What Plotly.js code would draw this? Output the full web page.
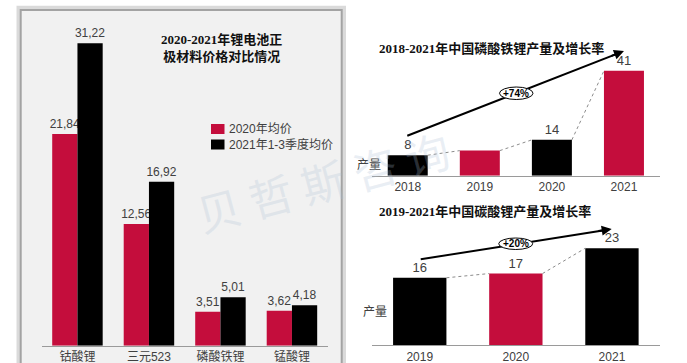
<!DOCTYPE html>
<html>
<head>
<meta charset="utf-8">
<script src="https://cdn.plot.ly/plotly-3.0.1.min.js"></script>
<style>html,body{margin:0;padding:0;background:#fff;}#chart{width:687px;height:363px;}</style>
</head>
<body>
<div id="chart"></div>
<script>
// ---------- data ----------
const priceCategories = ['钴酸锂', '三元523', '磷酸铁锂', '锰酸锂'];
const priceSeriesNames = ['2020年均价', '2021年1-3季度均价'];
const price2020 = [21.84, 12.56, 3.51, 3.62];
const price2021 = [31.22, 16.92, 5.01, 4.18];
const priceTitle = '2020-2021年锂电池正<br>极材料价格对比情况';

const lfpYears = ['2018', '2019', '2020', '2021'];
const lfpOutput = [8, 9.8, 14, 41];
const lfpLabels = ['8', '', '14', '41'];
const lfpTitle = '2018-2021年中国磷酸铁锂产量及增长率';
const lfpGrowth = '+74%';

const li2co3Years = ['2019', '2020', '2021'];
const li2co3Output = [16, 17, 23];
const li2co3Labels = ['16', '17', '23'];
const li2co3Title = '2019-2021年中国碳酸锂产量及增长率';
const li2co3Growth = '+20%';

const yLabel = '产量';
const watermark = '贝 哲 斯 咨 询';

// ---------- styles ----------
const RED = '#C40D3C';
const BLACK = '#000000';
const W = 687, H = 363;
const px = v => v / W;
const py = v => 1 - v / H;
const SANS = 'Liberation Sans, Noto Sans CJK SC, sans-serif';
const SERIF = 'Liberation Serif, Noto Sans CJK SC, serif';
const TXT = '#404040';
const fmt = v => v.toFixed(2).replace('.', ',');

const lfpColors = lfpYears.map((_, i) => i % 2 === 0 ? BLACK : RED);
const li2co3Colors = li2co3Years.map((_, i) => i % 2 === 0 ? BLACK : RED);
const rightBarWidth = 0.555;

const traces = [
  {type: 'bar', x: priceCategories, y: price2020, name: priceSeriesNames[0],
   marker: {color: RED}, text: price2020.map(fmt), textposition: 'outside',
   constraintext: 'none', cliponaxis: false, textfont: {size: 12, color: TXT, family: SANS},
   xaxis: 'x', yaxis: 'y', showlegend: false},
  {type: 'bar', x: priceCategories, y: price2021, name: priceSeriesNames[1],
   marker: {color: BLACK}, text: price2021.map(fmt), textposition: 'outside',
   constraintext: 'none', cliponaxis: false, textfont: {size: 12, color: TXT, family: SANS},
   xaxis: 'x', yaxis: 'y', showlegend: false},
  {type: 'bar', x: lfpYears, y: lfpOutput, width: rightBarWidth,
   marker: {color: lfpColors}, text: lfpLabels, textposition: 'outside',
   constraintext: 'none', cliponaxis: false, textfont: {size: 13, color: TXT, family: SANS},
   xaxis: 'x2', yaxis: 'y2', showlegend: false},
  {type: 'bar', x: li2co3Years, y: li2co3Output, width: rightBarWidth,
   marker: {color: li2co3Colors}, text: li2co3Labels, textposition: 'outside',
   constraintext: 'none', cliponaxis: false, textfont: {size: 13, color: TXT, family: SANS},
   xaxis: 'x3', yaxis: 'y3', showlegend: false}
];

const shapes = [
  // left panel shadow + box
  {type: 'rect', xref: 'paper', yref: 'paper', x0: px(18.5), x1: px(344), y0: -0.05, y1: py(7.8),
   line: {color: 'rgba(150,150,150,0.35)', width: 4}, fillcolor: 'rgba(0,0,0,0)', layer: 'below'},
  {type: 'rect', xref: 'paper', yref: 'paper', x0: px(20.7), x1: px(341.7), y0: -0.05, y1: py(10),
   line: {color: '#a3a3a3', width: 2}, fillcolor: '#f1f1f1', layer: 'below'},
  // legend swatches
  {type: 'rect', xref: 'paper', yref: 'paper', x0: px(211), x1: px(224.5), y0: py(134), y1: py(124),
   line: {width: 0}, fillcolor: RED},
  {type: 'rect', xref: 'paper', yref: 'paper', x0: px(211), x1: px(224.5), y0: py(149.5), y1: py(139.5),
   line: {width: 0}, fillcolor: BLACK},
  // growth arrow lines
  {type: 'line', xref: 'paper', yref: 'paper', x0: px(407.3), y0: py(135.7), x1: px(620), y1: py(52.6),
   line: {color: '#000', width: 2}},
  {type: 'line', xref: 'paper', yref: 'paper', x0: px(420.7), y0: py(259.3), x1: px(607.5), y1: py(229.7),
   line: {color: '#000', width: 2}},
  // growth ellipses (on top of the arrow lines)
  {type: 'circle', xref: 'paper', yref: 'paper', x0: px(499.5), x1: px(533), y0: py(99.5), y1: py(87),
   line: {color: '#000', width: 1}, fillcolor: '#fff'},
  {type: 'circle', xref: 'paper', yref: 'paper', x0: px(498.7), x1: px(532.7), y0: py(249.5), y1: py(238),
   line: {color: '#000', width: 1}, fillcolor: '#fff'}
];

// dotted connectors between bar tops
function connectors(vals, xr, yr) {
  const out = [];
  for (let i = 0; i < vals.length - 1; i++) {
    out.push({type: 'line', xref: xr, yref: yr,
      x0: i + rightBarWidth / 2, y0: vals[i], x1: i + 1 - rightBarWidth / 2, y1: vals[i + 1],
      line: {color: '#8c8c8c', width: 1, dash: 'dot'}});
  }
  return out;
}
shapes.push(...connectors(lfpOutput, 'x2', 'y2'));
shapes.push(...connectors(li2co3Output, 'x3', 'y3'));

const center = {xanchor: 'center', yanchor: 'middle', showarrow: false};
const annotations = [
  Object.assign({xref: 'paper', yref: 'paper', x: px(221), y: py(47.5), text: priceTitle,
   font: {family: SERIF, size: 13, color: '#111', weight: 'bold'}, align: 'center'}, center),
  {xref: 'paper', yref: 'paper', x: px(227), y: py(129), xanchor: 'left', yanchor: 'middle', text: priceSeriesNames[0],
   showarrow: false, font: {family: SANS, size: 12, color: TXT}},
  {xref: 'paper', yref: 'paper', x: px(227), y: py(144.5), xanchor: 'left', yanchor: 'middle', text: priceSeriesNames[1],
   showarrow: false, font: {family: SANS, size: 12, color: TXT}},
  {xref: 'paper', yref: 'paper', x: px(377), y: py(48), xanchor: 'left', yanchor: 'middle', text: lfpTitle, showarrow: false,
   font: {family: SERIF, size: 13, color: '#111', weight: 'bold'}},
  {xref: 'paper', yref: 'paper', x: px(377), y: py(211.7), xanchor: 'left', yanchor: 'middle', text: li2co3Title, showarrow: false,
   font: {family: SERIF, size: 13, color: '#111', weight: 'bold'}},
  Object.assign({xref: 'paper', yref: 'paper', x: px(369), y: py(165), text: yLabel,
   font: {family: SANS, size: 12, color: TXT}}, center),
  Object.assign({xref: 'paper', yref: 'paper', x: px(375), y: py(311.7), text: yLabel,
   font: {family: SANS, size: 12, color: TXT}}, center),
  // arrowheads
  {xref: 'paper', yref: 'paper', x: px(624), y: py(51), ax: -14, ay: 5.5, text: '',
   showarrow: true, arrowhead: 2, arrowsize: 1, arrowwidth: 2, arrowcolor: '#000'},
  {xref: 'paper', yref: 'paper', x: px(611.7), y: py(229), ax: -14.8, ay: 2.35, text: '',
   showarrow: true, arrowhead: 2, arrowsize: 1, arrowwidth: 2, arrowcolor: '#000'},
  Object.assign({xref: 'paper', yref: 'paper', x: px(516.2), y: py(93.2), text: lfpGrowth,
   font: {family: SANS, size: 10, color: '#000', weight: 'bold'}}, center),
  Object.assign({xref: 'paper', yref: 'paper', x: px(515.7), y: py(243.7), text: li2co3Growth,
   font: {family: SANS, size: 10, color: '#000', weight: 'bold'}}, center),
  // watermark
  Object.assign({xref: 'paper', yref: 'paper', x: px(322), y: py(181), text: watermark, textangle: -15,
   font: {family: 'Noto Sans CJK SC, sans-serif', size: 44, color: 'rgba(170,190,212,0.25)'}}, center)
];

const xCommon = {type: 'category', showgrid: false, zeroline: false, showline: true,
  linecolor: '#9a9a9a', linewidth: 1, ticks: '', fixedrange: true,
  tickfont: {family: SANS, size: 12, color: TXT}};
const yCommon = {visible: false, showgrid: false, zeroline: false, fixedrange: true};

const layout = {
  width: W, height: H,
  margin: {l: 0, r: 0, t: 0, b: 0, pad: 0},
  paper_bgcolor: '#ffffff', plot_bgcolor: 'rgba(0,0,0,0)',
  showlegend: false,
  barmode: 'group', bargap: 0.294, bargroupgap: 0,
  xaxis: Object.assign({}, xCommon, {domain: [px(41.7), px(327.7)], anchor: 'y'}),
  yaxis: Object.assign({}, yCommon, {domain: [py(345.7), py(6.6)], range: [0, 35], anchor: 'x'}),
  xaxis2: Object.assign({}, xCommon, {domain: [px(371.7), px(660)], anchor: 'y2'}),
  yaxis2: Object.assign({}, yCommon, {domain: [py(175.7), py(60.5)], range: [0, 45], anchor: 'x2'}),
  xaxis3: Object.assign({}, xCommon, {domain: [px(371.7), px(660)], anchor: 'y3'}),
  yaxis3: Object.assign({}, yCommon, {domain: [py(345.3), py(239.8)], range: [0, 25], anchor: 'x3'}),
  shapes: shapes,
  annotations: annotations
};

Plotly.newPlot('chart', traces, layout, {displayModeBar: false, staticPlot: true});
</script>
</body>
</html>
